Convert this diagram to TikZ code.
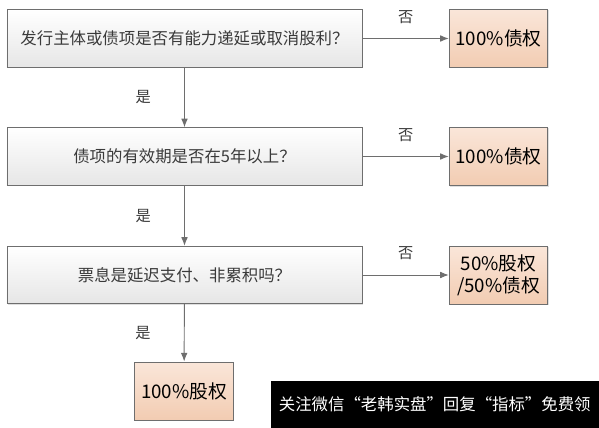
\documentclass[tikz,border=0pt]{standalone}
\usepackage{fontspec}
\setmainfont{Noto Sans CJK SC}
\usepackage{tikz}
\usetikzlibrary{arrows.meta,positioning,shadows}
\definecolor{Frame}{HTML}{6E6E6E}
\definecolor{Ink}{HTML}{3A3A3A}
\definecolor{PaleGrey}{HTML}{E6E6E6}
\definecolor{PeachTop}{HTML}{FAE6D9}
\definecolor{PeachLow}{HTML}{F2CCB2}

\begin{document}
\begin{tikzpicture}[x=0.03cm,y=-0.03cm,
  every node/.style={font=\fontsize{14}{17}\selectfont,align=center,text=Ink},
  ask/.style={rectangle,draw=Frame,thick,top color=white,bottom color=PaleGrey,
    minimum width=10.65cm,minimum height=1.72cm,
    drop shadow={shadow xshift=0.3mm,shadow yshift=-0.3mm,opacity=0.25}},
  result/.style={rectangle,draw=Frame,thick,top color=PeachTop,bottom color=PeachLow,
    minimum width=2.95cm,minimum height=1.74cm,inner sep=1pt,
    font=\fontsize{16}{19}\selectfont,text=black,
    drop shadow={shadow xshift=0.3mm,shadow yshift=-0.3mm,opacity=0.25}},
  tag/.style={font=\fontsize{13}{15}\selectfont},
  arrow/.style={-{Latex[length=2.6mm,width=2mm]},thick,color=Frame}
]
\useasboundingbox (0,0) rectangle (599,428);
\node[ask] (q1) at (184.5,38.5) {发行主体或债项是否有能力递延或取消股利？};
\node[ask] (q2) at (184.5,156.5) {债项的有效期是否在5年以上？};
\node[ask] (q3) at (184.5,275) {票息是延迟支付、非累积吗？};
\node[result] (r1) at (498.5,38.5) {100\%债权};
\node[result] (r2) at (498.5,156.5) {100\%债权};
\node[result] (r3) at (498.5,275) {50\%股权\\/50\%债权};
\node[result] (r4) at (184,391) {100\%股权};
\draw[arrow] (q1) -- (r1) node[tag,midway,above=9pt] (n1) {否};
\draw[arrow] (q2) -- (r2) node[tag,midway,above=9pt] (n2) {否};
\draw[arrow] (q3) -- (r3) node[tag,midway,above=9pt] (n3) {否};
\draw[arrow] (q1) -- (q2) node[tag,midway,left=25pt] (y1) {是};
\draw[arrow] (q2) -- (q3) node[tag,midway,left=25pt] (y2) {是};
\draw[arrow] (q3) -- (r4) node[tag,midway,left=25pt] (y3) {是};
% watermark band
\node[fill=black,text=white,anchor=south east,minimum width=9.84cm,minimum height=1.41cm,
  inner sep=0pt] (mark) at (599,428) {关注微信“老韩实盘”回复“指标”免费领};
\end{tikzpicture}
\end{document}
